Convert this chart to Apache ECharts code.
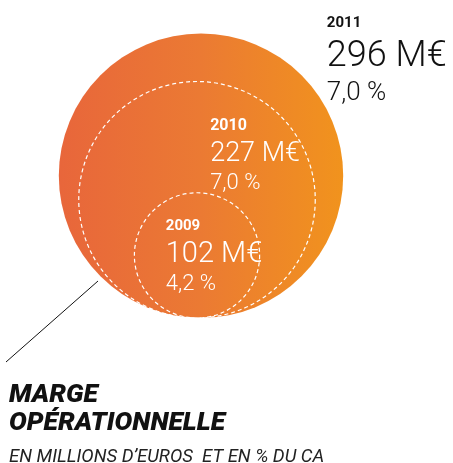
<!DOCTYPE html>
<html>
<head>
    <meta charset="utf-8">
    <title>Marge opérationnelle</title>
    <script src="https://cdn.jsdelivr.net/npm/echarts@6/dist/echarts.min.js"></script>
</head>
<body style="margin:0">
<div id="main" style="width: 453px;height:463px;"></div>
</body>

<script type="text/javascript">
    // data
    var years = ['2009', '2010', '2011'];
    var values = [102, 227, 296];      // M€
    var margins = [4.2, 7.0, 7.0];     // % du CA

    var myChart = echarts.init(document.getElementById('main'));

    // circle diameter grows with sqrt of the value (tuned to the picture)
    function sizeOf(v) {
        return 22.4 * Math.sqrt(v) - 101;
    }

    var baseY = 318;   // all circles sit on the same bottom line (pixels)
    var labelOffset = {
        '2011': [268, -23],
        '2010': [132, 32],
        '2009': [32, 22]
    };
    var richSize = {
        '2011': { y: 15, v: 36, p: 26, gy: 11, gv: 5 },
        '2010': { y: 16, v: 27, p: 22, gy: 10, gv: 4 },
        '2009': { y: 15, v: 29, p: 22, gy: 9, gv: 4 }
    };

    var grad = new echarts.graphic.LinearGradient(0, 0, 1, 0, [
        { offset: 0, color: '#e8663b' },
        { offset: 0.5, color: '#eb7a33' },
        { offset: 1, color: '#f1931d' }
    ]);

    var data = [];
    for (var i = years.length - 1; i >= 0; i--) {
        var big = (i === years.length - 1);
        var s = sizeOf(values[i]);
        var rs = richSize[years[i]];
        var col = big ? '#111111' : '#ffffff';
        data.push({
            name: years[i],
            value: [big ? 201 : 197, baseY - s / 2, values[i], margins[i]],
            symbolSize: s,
            itemStyle: big ? { color: grad, opacity: 1 } : {
                color: 'transparent',
                opacity: 1,
                borderColor: '#ffffff',
                borderWidth: 1.2,
                borderType: [4, 3]
            },
            label: {
                show: true,
                opacity: 1,
                position: labelOffset[years[i]],
                align: 'left',
                verticalAlign: 'top',
                formatter: function (p) {
                    return '{y|' + p.name + '}\n{v|' + p.value[2] + ' M€}\n{p|' +
                        p.value[3].toFixed(1).replace('.', ',') + ' %}';
                },
                rich: {
                    y: { fontSize: rs.y, fontWeight: 'bold', color: col, lineHeight: rs.y + rs.gy, fontFamily: 'Roboto' },
                    v: { fontSize: rs.v, fontWeight: 300, color: col, lineHeight: rs.v + rs.gv, fontFamily: 'Roboto' },
                    p: { fontSize: rs.p, fontWeight: 300, color: col, lineHeight: rs.p + 5, fontFamily: 'Roboto' }
                }
            }
        });
    }

    option = {
        animation: false,
        title: {
            text: 'MARGE\nOPÉRATIONNELLE',
            subtext: 'EN MILLIONS D\u2019EUROS  ET EN % DU CA',
            left: 4,
            top: 376,
            itemGap: 11,
            textStyle: {
                fontFamily: 'Roboto',
                fontSize: 26.5,
                fontStyle: 'italic',
                fontWeight: 900,
                lineHeight: 28,
                color: '#111'
            },
            subtextStyle: {
                fontFamily: 'Roboto',
                fontSize: 18.5,
                fontStyle: 'italic',
                fontWeight: 'normal',
                color: '#222'
            }
        },
        grid: { left: 0, top: 0, width: 453, height: 463 },
        xAxis: { type: 'value', min: 0, max: 453, show: false },
        yAxis: { type: 'value', min: 0, max: 463, inverse: true, show: false },
        graphic: [{
            type: 'line',
            shape: { x1: 98, y1: 281, x2: 6, y2: 362 },
            style: { stroke: '#111', lineWidth: 1 },
            z: 0
        }],
        series: [{
            type: 'scatter',
            symbol: 'circle',
            itemStyle: { opacity: 1 },
            emphasis: { disabled: true },
            data: data
        }]
    };

    myChart.setOption(option);
</script>
</html>
